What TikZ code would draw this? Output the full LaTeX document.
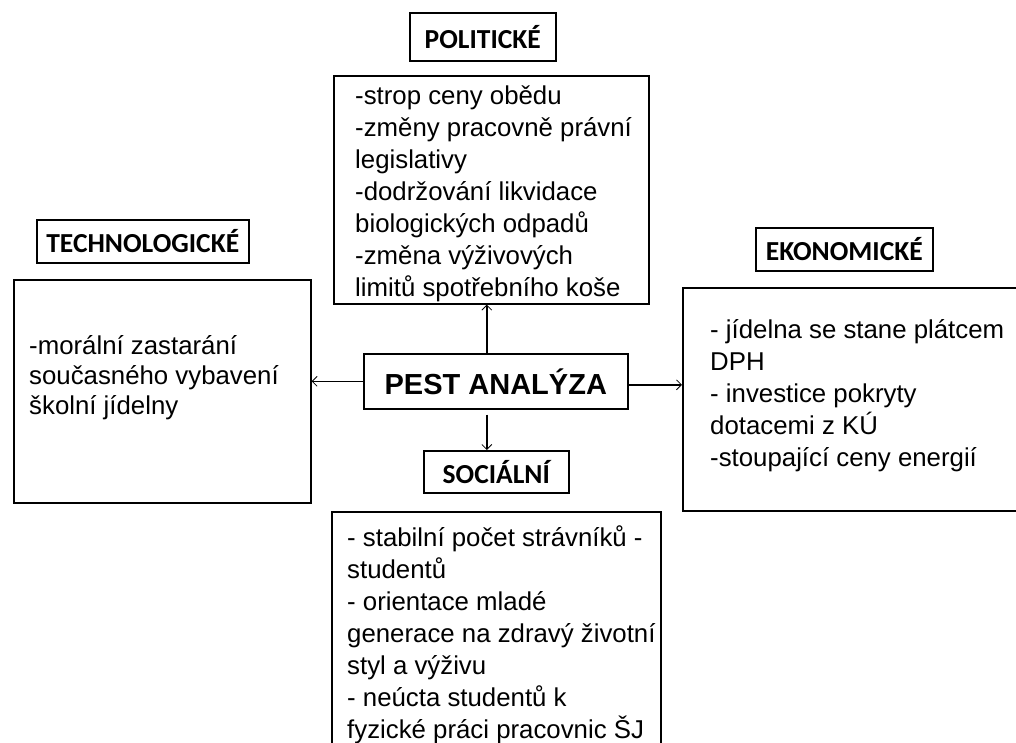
\documentclass[tikz,border=0pt]{standalone}
\usepackage{fontspec}
\setmainfont{Liberation Sans}
\newfontfamily\headfont{Carlito}
\usetikzlibrary{arrows.meta}
\begin{document}
\begin{tikzpicture}[x=1pt,y=-1pt,
  frame/.style={draw, line width=1.6pt, inner sep=0pt, anchor=north west},
  head/.style={frame, font=\headfont\bfseries\fontsize{27.5}{30}\selectfont},
  body/.style={inner sep=0pt, anchor=west, align=left, font=\fontsize{25.8}{32}\selectfont},
  link/.style={line width=1.6pt, -{Straight Barb[length=5pt,width=10pt,line width=0.8pt]}}
]
\useasboundingbox (0,0) rectangle (1016,742);

% political factors
\node[head, minimum width=146pt, minimum height=48pt] (polhead) at (409,12) {POLITICKÉ};
\node[frame, minimum width=315pt, minimum height=228pt] (pol) at (333,75) {};
\node[body] (poltext) at (355,193.5) {-strop ceny obědu\\-změny pracovně právní\\legislativy\\-dodržování likvidace\\biologických odpadů\\-změna výživových\\limitů spotřebního koše};

% technological factors
\node[head, minimum width=212pt, minimum height=43pt] (techhead) at (36,219) {TECHNOLOGICKÉ};
\node[frame, minimum width=297pt, minimum height=223pt] (tech) at (13,279) {};
\node[body, font=\fontsize{25.8}{30}\selectfont] (techtext) at (29,378) {-morální zastarání\\současného vybavení\\školní jídelny};

% economic factors
\node[head, minimum width=177pt, minimum height=43pt] (ecohead) at (755,227) {EKONOMICKÉ};
\node[frame, minimum width=360pt, minimum height=223pt] (eco) at (682,287) {};
\node[body] (ecotext) at (710,396) {- jídelna se stane plátcem\\DPH\\- investice pokryty\\dotacemi z KÚ\\-stoupající ceny energií};

% social factors
\node[head, minimum width=145pt, minimum height=42pt] (sochead) at (423,450) {SOCIÁLNÍ};
\node[frame, minimum width=329pt, minimum height=250pt] (soc) at (331,511) {};
\node[body] (soctext) at (347,634.5) {- stabilní počet strávníků -\\studentů\\- orientace mladé\\generace na zdravý životní\\styl a výživu\\- neúcta studentů k\\fyzické práci pracovnic ŠJ};

% centre
\node[frame, minimum width=264pt, minimum height=55pt, font=\bfseries\fontsize{29}{34}\selectfont] (pest) at (363,353) {PEST ANALÝZA};

% connectors
\draw[link] ([xshift=-9pt]pest.north) -- ([xshift=-9pt]pest.north |- pol.south);
\draw[link] (pest.west) -- (pest.west -| tech.east);
\draw[link] ([yshift=-3.5pt]pest.east) -- ([yshift=-3.5pt]pest.east -| eco.west);
\draw[link] ([xshift=-9pt,yshift=-5pt]pest.south) -- ([xshift=-9pt]pest.south |- sochead.north);
\end{tikzpicture}
\end{document}
